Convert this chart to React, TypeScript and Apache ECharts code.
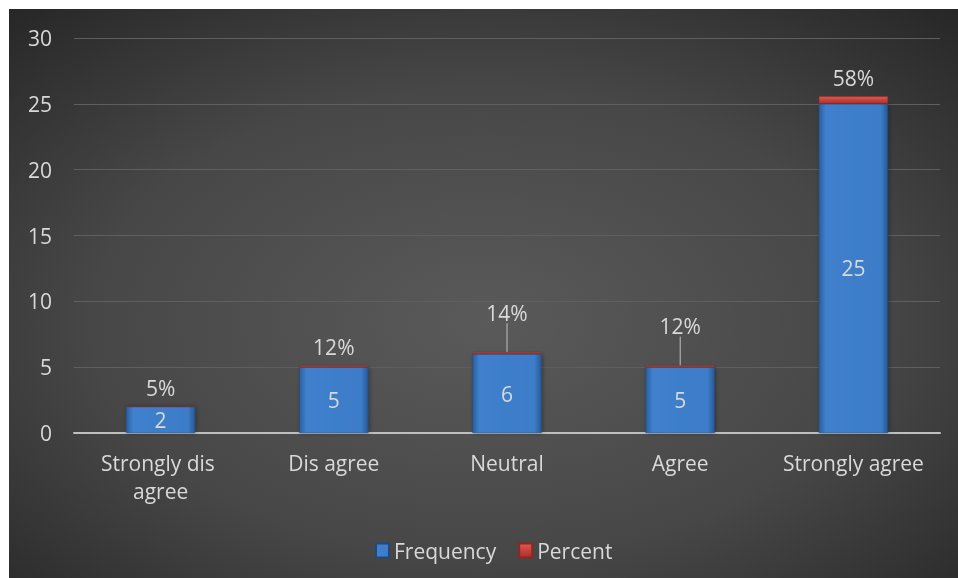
import React, { useEffect, useRef } from "react";
import * as echarts from "echarts";

// Survey response counts and their share of all answers
const categories = ["Strongly dis agree", "Dis agree", "Neutral", "Agree", "Strongly agree"];
const frequency = [2, 5, 6, 5, 25];
const percent = [0.05, 0.12, 0.14, 0.12, 0.58];
const yTicks = { min: 0, max: 30, interval: 5 };
// percent labels lifted higher and tied to their bar with a leader line
const liftedLabels = [false, false, true, true, false];

const FONT = "'Open Sans', Lato, sans-serif";
const TEXT = "#d9d9d9";
const FS = 21;

export default function App() {
  const ref = useRef<HTMLDivElement>(null);

  useEffect(() => {
    if (!ref.current) return;
    const chart = echarts.init(ref.current, null, { renderer: "svg" });

    const blue = new echarts.graphic.LinearGradient(0, 0, 1, 0, [
      { offset: 0, color: "#2a5f9e" },
      { offset: 0.1, color: "#3f80cd" },
      { offset: 0.9, color: "#3d7cc8" },
      { offset: 1, color: "#285892" },
    ]);
    const red = new echarts.graphic.LinearGradient(0, 0, 0, 1, [
      { offset: 0, color: "#e0574f" },
      { offset: 1, color: "#a8302b" },
    ]);

    chart.setOption({
      animation: false,
      backgroundColor: new echarts.graphic.RadialGradient(0.5, 0.55, 0.75, [
        { offset: 0, color: "#5a5a5a" },
        { offset: 0.55, color: "#474747" },
        { offset: 1, color: "#262626" },
      ]),
      textStyle: { fontFamily: FONT },
      grid: { left: 65, right: 18, top: 29, bottom: 145, containLabel: false },
      legend: {
        top: 526,
        left: 361,
        itemWidth: 13,
        itemHeight: 14,
        itemGap: 22,
        icon: "rect",
        textStyle: { color: TEXT, fontSize: FS, fontFamily: FONT },
        data: ["Frequency", "Percent"],
      },
      xAxis: {
        type: "category",
        data: categories,
        axisLine: { lineStyle: { color: "#bfbfbf", width: 2 } },
        axisTick: { show: false },
        axisLabel: {
          color: TEXT,
          fontSize: FS,
          fontFamily: FONT,
          margin: 16,
          lineHeight: 28,
          width: 150,
          overflow: "break",
          interval: 0,
        },
      },
      yAxis: {
        type: "value",
        min: yTicks.min,
        max: yTicks.max,
        interval: yTicks.interval,
        axisLine: { show: false },
        axisTick: { show: false },
        axisLabel: { color: TEXT, fontSize: FS, fontFamily: FONT, margin: 22 },
        splitLine: { lineStyle: { color: "#5f5f5f", width: 1 } },
      },
      series: [
        {
          name: "Frequency",
          type: "bar",
          stack: "total",
          barWidth: "40%",
          data: frequency,
          itemStyle: {
            color: blue,
            borderColor: "#23497a",
            borderWidth: 0.5,
            shadowColor: "rgba(0,0,0,0.35)",
            shadowBlur: 4,
            shadowOffsetX: 1,
          },
          label: {
            show: true,
            position: "inside",
            color: TEXT,
            fontSize: FS,
            fontFamily: FONT,
          },
        },
        {
          name: "Percent",
          type: "bar",
          stack: "total",
          barWidth: "40%",
          data: percent.map((v, i) => ({
            value: v,
            labelLine: { show: liftedLabels[i] },
          })),
          itemStyle: { color: red, borderColor: "#8f2622", borderWidth: 0.5 },
          label: {
            show: true,
            position: "top",
            distance: 8,
            color: TEXT,
            fontSize: FS,
            fontFamily: FONT,
            formatter: (p: any) => Math.round(p.value * 100) + "%",
          },
          labelLine: { show: true, lineStyle: { color: "#bfbfbf", width: 1 } },
          labelLayout: (p: any) => (liftedLabels[p.dataIndex] ? { dy: -21 } : {}),
        },
      ],
    });

    return () => chart.dispose();
  }, []);

  return (
    <div
      ref={ref}
      style={{ position: "fixed", left: 9, top: 9, width: 949, height: 569 }}
    />
  );
}
